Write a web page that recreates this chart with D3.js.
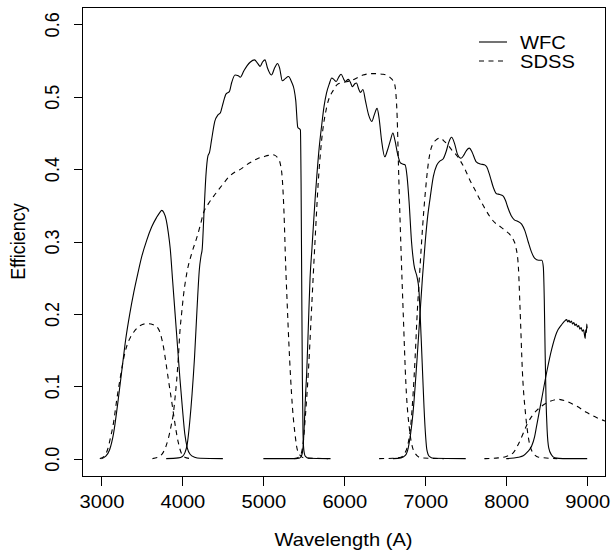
<!DOCTYPE html>
<html><head><meta charset="utf-8">
<script src="https://cdn.jsdelivr.net/npm/d3@7"></script>
<style>
body{margin:0;background:#fff}
text{font-family:"Liberation Sans",Arial,Helvetica,sans-serif;fill:#000}
</style></head>
<body><svg id="c" width="611" height="553"></svg>
<script>
// ---- tick labels / legend ----
const xTicks = [3000, 4000, 5000, 6000, 7000, 8000, 9000];
const yTicks = [0.0, 0.1, 0.2, 0.3, 0.4, 0.5, 0.6];
const legendLabels = ["WFC", "SDSS"];

// ---- WFC filter curves [wavelength (A), efficiency] ----
const wfcU = [[3000,0],[3050,0.003],[3100,0.012],[3150,0.035],[3200,0.075],[3250,0.12],[3300,0.165],[3350,0.2],[3400,0.23],[3450,0.256],[3500,0.28],[3560,0.302],[3620,0.32],[3680,0.333],[3720,0.34],[3745,0.343],[3770,0.34],[3800,0.33],[3825,0.313],[3850,0.29],[3880,0.245],[3910,0.2],[3940,0.155],[3970,0.11],[4000,0.07],[4030,0.034],[4060,0.015],[4095,0.006],[4150,0.002],[4220,0.0005],[4500,0]];
const wfcG = [[3800,0],[3950,0.001],[4000,0.003],[4030,0.008],[4060,0.02],[4090,0.05],[4120,0.09],[4150,0.14],[4180,0.205],[4210,0.262],[4230,0.28],[4245,0.29],[4265,0.335],[4290,0.39],[4315,0.418],[4335,0.423],[4360,0.44],[4400,0.466],[4440,0.475],[4470,0.478],[4500,0.49],[4540,0.504],[4580,0.507],[4610,0.52],[4650,0.53],[4690,0.529],[4715,0.527],[4760,0.536],[4800,0.543],[4840,0.548],[4890,0.551],[4930,0.546],[4960,0.542],[4990,0.548],[5020,0.551],[5050,0.54],[5100,0.53],[5140,0.54],[5175,0.546],[5200,0.54],[5235,0.522],[5270,0.525],[5310,0.528],[5350,0.52],[5380,0.51],[5400,0.495],[5425,0.458],[5458,0.454],[5466,0.38],[5474,0.24],[5482,0.11],[5490,0.035],[5500,0.012],[5520,0.003],[5560,0.0005],[5800,0]];
const wfcR = [[5000,0],[5400,0],[5450,0.001],[5475,0.005],[5492,0.018],[5505,0.045],[5520,0.085],[5536,0.12],[5555,0.18],[5577,0.25],[5600,0.29],[5617,0.32],[5640,0.36],[5660,0.39],[5690,0.43],[5720,0.46],[5750,0.487],[5780,0.505],[5815,0.518],[5845,0.526],[5870,0.524],[5900,0.521],[5930,0.527],[5960,0.531],[5990,0.525],[6010,0.521],[6050,0.524],[6075,0.52],[6100,0.514],[6130,0.518],[6150,0.519],[6180,0.51],[6200,0.506],[6230,0.51],[6260,0.495],[6300,0.475],[6340,0.466],[6370,0.475],[6405,0.484],[6430,0.47],[6460,0.44],[6500,0.417],[6530,0.425],[6570,0.44],[6600,0.45],[6625,0.44],[6660,0.42],[6690,0.409],[6720,0.407],[6750,0.406],[6775,0.39],[6800,0.355],[6830,0.3],[6860,0.268],[6900,0.25],[6920,0.235],[6950,0.165],[6970,0.11],[6985,0.07],[7005,0.03],[7020,0.012],[7050,0.003],[7100,0.0005],[7500,0]];
const wfcI = [[6600,0],[6700,0.001],[6750,0.004],[6790,0.015],[6820,0.035],[6850,0.065],[6875,0.1],[6900,0.14],[6935,0.2],[6965,0.25],[7000,0.3],[7030,0.335],[7060,0.36],[7100,0.39],[7140,0.405],[7180,0.411],[7220,0.414],[7260,0.425],[7290,0.437],[7325,0.444],[7360,0.436],[7400,0.42],[7440,0.415],[7480,0.42],[7510,0.426],[7545,0.429],[7580,0.423],[7630,0.41],[7680,0.407],[7730,0.406],[7760,0.403],[7800,0.39],[7840,0.375],[7880,0.366],[7920,0.365],[7960,0.363],[7990,0.357],[8020,0.347],[8060,0.336],[8100,0.33],[8140,0.328],[8190,0.324],[8230,0.315],[8270,0.3],[8310,0.286],[8350,0.277],[8400,0.274],[8440,0.274],[8458,0.265],[8470,0.22],[8480,0.15],[8492,0.08],[8505,0.04],[8525,0.015],[8560,0.005],[8600,0.001],[8700,0],[9000,0]];
const wfcZ = [[8000,0],[8150,0.002],[8210,0.004],[8260,0.009],[8313,0.017],[8350,0.03],[8375,0.045],[8437,0.082],[8499,0.119],[8561,0.151],[8622,0.174],[8684,0.185],[8720,0.19],[8746,0.192],[8760,0.189],[8775,0.191],[8790,0.188],[8805,0.19],[8820,0.186],[8835,0.188],[8850,0.184],[8865,0.186],[8880,0.182],[8895,0.184],[8910,0.179],[8925,0.181],[8940,0.176],[8955,0.178],[8965,0.172],[8975,0.166],[8982,0.178],[8990,0.174],[8995,0.186],[9000,0.18]];

// ---- SDSS filter curves ----
const sdssU = [[2980,0],[3040,0.004],[3080,0.014],[3110,0.028],[3150,0.05],[3190,0.082],[3230,0.11],[3272,0.137],[3320,0.158],[3360,0.168],[3400,0.175],[3480,0.184],[3560,0.1865],[3640,0.185],[3700,0.18],[3740,0.168],[3770,0.152],[3800,0.13],[3830,0.107],[3860,0.085],[3890,0.062],[3920,0.04],[3950,0.022],[3990,0.007],[4050,0.001],[4130,0]];
const sdssG = [[3630,0],[3700,0.002],[3765,0.009],[3800,0.018],[3827,0.028],[3860,0.045],[3889,0.063],[3910,0.085],[3930,0.109],[3950,0.14],[3971,0.178],[3990,0.2],[4012,0.224],[4054,0.256],[4116,0.284],[4177,0.305],[4220,0.322],[4259,0.339],[4320,0.352],[4383,0.362],[4450,0.372],[4506,0.38],[4580,0.39],[4651,0.396],[4720,0.4],[4795,0.406],[4870,0.411],[4938,0.415],[5000,0.417],[5062,0.419],[5110,0.42],[5144,0.419],[5180,0.415],[5210,0.407],[5235,0.385],[5255,0.34],[5275,0.27],[5296,0.21],[5315,0.16],[5335,0.115],[5360,0.07],[5390,0.035],[5420,0.012],[5460,0.004],[5500,0.001],[5830,0]];
const sdssR = [[5380,0],[5450,0.003],[5490,0.02],[5520,0.06],[5556,0.12],[5597,0.21],[5638,0.3],[5680,0.385],[5720,0.44],[5783,0.486],[5864,0.509],[5926,0.518],[6000,0.52],[6100,0.523],[6230,0.53],[6350,0.532],[6480,0.531],[6560,0.527],[6620,0.518],[6650,0.48],[6675,0.38],[6700,0.29],[6728,0.2],[6760,0.105],[6810,0.036],[6870,0.008],[6950,0.001],[7230,0]];
const sdssI = [[6430,0],[6600,0.0005],[6700,0.002],[6740,0.006],[6790,0.022],[6820,0.045],[6850,0.09],[6875,0.14],[6900,0.2],[6930,0.255],[6955,0.3],[6980,0.34],[7000,0.367],[7040,0.41],[7070,0.428],[7100,0.436],[7140,0.441],[7180,0.443],[7240,0.438],[7290,0.432],[7330,0.426],[7380,0.42],[7430,0.412],[7490,0.4],[7550,0.385],[7620,0.37],[7680,0.357],[7740,0.345],[7800,0.334],[7860,0.326],[7920,0.321],[7990,0.315],[8050,0.309],[8090,0.302],[8120,0.292],[8150,0.265],[8170,0.21],[8200,0.12],[8240,0.06],[8280,0.025],[8330,0.008],[8400,0.002],[8630,0]];
const sdssZ = [[7730,0],[7900,0.001],[8000,0.003],[8086,0.008],[8150,0.02],[8210,0.035],[8260,0.048],[8313,0.058],[8380,0.067],[8437,0.0725],[8540,0.079],[8640,0.082],[8746,0.079],[8870,0.0725],[8990,0.064],[9120,0.0565],[9220,0.052],[9300,0.049],[9400,0.045]];

const wfcSeries = [wfcU, wfcG, wfcR, wfcI, wfcZ];
const sdssSeries = [sdssU, sdssG, sdssR, sdssI, sdssZ];

// ---- layout ----
const L = 82, R = 605, T = 7, B = 476;
const SX = 1.12, FS = 18;
const svg = d3.select("#c");

const x = d3.scaleLinear().domain([2760, 9220]).range([L, R]);
const y = d3.scaleLinear().domain([-0.024, 0.624]).range([B, T]);

svg.append("defs").append("clipPath").attr("id", "clip")
  .append("rect").attr("x", L).attr("y", T).attr("width", R - L).attr("height", B - T);

const line = d3.line().x(d => x(d[0])).y(d => y(d[1])).curve(d3.curveMonotoneX);
const plot = svg.append("g").attr("clip-path", "url(#clip)");
plot.selectAll("path.wfc").data(wfcSeries).join("path").attr("class", "wfc")
  .attr("d", line).attr("fill", "none").attr("stroke", "#000").attr("stroke-width", 1.1);
plot.selectAll("path.sdss").data(sdssSeries).join("path").attr("class", "sdss")
  .attr("d", line).attr("fill", "none").attr("stroke", "#000").attr("stroke-width", 1.1)
  .attr("stroke-dasharray", "5,4.5");

// axes
const xAxis = svg.append("g").attr("transform", `translate(0,${B + 0.5})`)
  .call(d3.axisBottom(x).tickValues(xTicks).tickFormat(d3.format("d")).tickSize(9).tickSizeOuter(0));
const yAxis = svg.append("g").attr("transform", `translate(${L + 0.5},0)`)
  .call(d3.axisLeft(y).tickValues(yTicks).tickFormat(d3.format(".1f")).tickSize(9).tickSizeOuter(0));
[xAxis, yAxis].forEach(a => {
  a.select(".domain").remove();
  a.selectAll("line").attr("stroke", "#000").attr("shape-rendering", "crispEdges");
  a.selectAll("text").attr("font-size", FS).attr("font-family", null).style("fill", "#000");
});
xAxis.selectAll("text").attr("y", null).attr("dy", null)
  .attr("transform", `translate(0,31.5) scale(${SX},1)`).attr("text-anchor", "middle");
yAxis.selectAll("text").attr("x", null).attr("dy", null)
  .attr("transform", `translate(-24,0) scale(${SX},1) rotate(-90)`).attr("text-anchor", "middle");

// box
svg.append("rect").attr("x", L + 0.5).attr("y", T + 0.5).attr("width", R - L).attr("height", B - T)
  .attr("fill", "none").attr("stroke", "#000").attr("shape-rendering", "crispEdges");

// axis titles
svg.append("text").attr("transform", `translate(${(L + R) / 2},546) scale(${SX},1)`)
  .attr("text-anchor", "middle").attr("font-size", FS).text("Wavelength (A)");
svg.append("text").attr("transform", `translate(25,${(T + B) / 2}) scale(${SX},1) rotate(-90)`)
  .attr("text-anchor", "middle").attr("font-size", FS).text("Efficiency");

// legend
const leg = svg.append("g");
legendLabels.forEach((lab, i) => {
  const ly = 42 + i * 19;
  leg.append("line").attr("x1", 479).attr("x2", 507).attr("y1", ly).attr("y2", ly)
    .attr("stroke", "#000").attr("stroke-width", 1.1)
    .attr("stroke-dasharray", i === 1 ? "5,4.5" : null);
  leg.append("text").attr("transform", `translate(520,${ly + 6.8}) scale(${SX},1)`)
    .attr("font-size", FS).text(lab);
});
</script></body></html>
